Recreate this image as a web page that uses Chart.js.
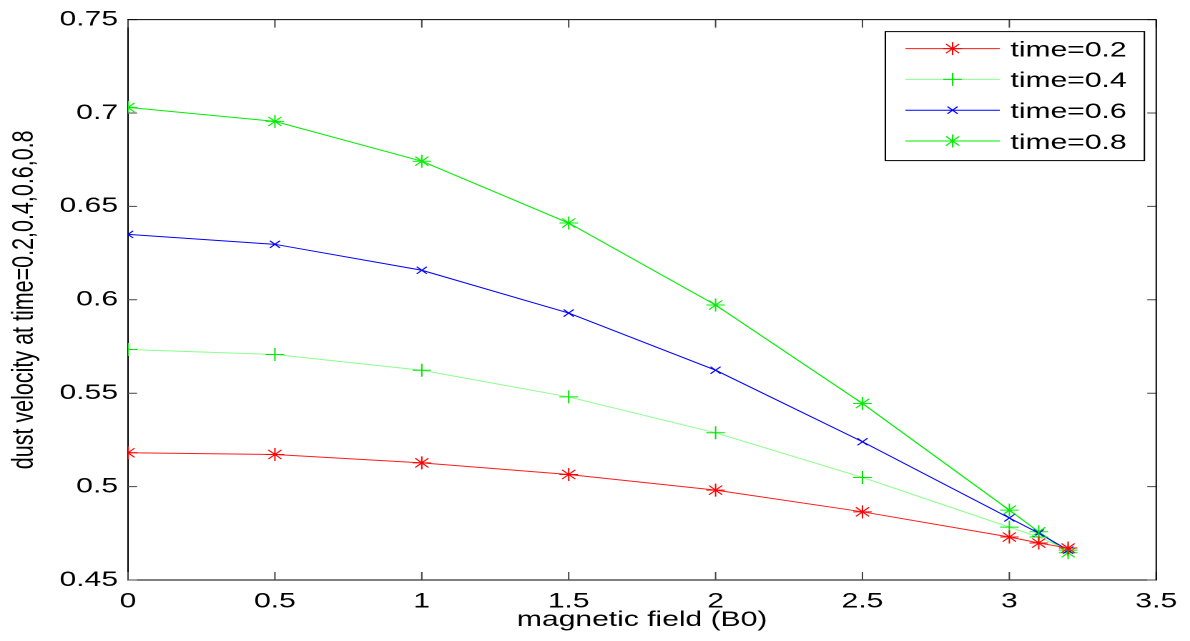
<!DOCTYPE html>
<html>
<head>
<meta charset="utf-8">
<script src="https://cdn.jsdelivr.net/npm/chart.js@4/dist/chart.umd.min.js"></script>
<style>
html,body{margin:0;padding:0;background:#fff;overflow:hidden;}
#wrap{position:absolute;left:0;top:0;width:832px;height:641px;transform:scaleX(1.430288);transform-origin:0 0;}
</style>
</head>
<body>
<div id="wrap"><canvas id="c"></canvas></div>
<script>
// ---- data ----
const xValues = [0, 0.5, 1, 1.5, 2, 2.5, 3, 3.1, 3.2];
const seriesNames = ['time=0.2', 'time=0.4', 'time=0.6', 'time=0.8'];
const time02 = [0.5181, 0.5172, 0.5127, 0.5065, 0.4981, 0.4865, 0.4730, 0.4698, 0.4671];
const time04 = [0.5734, 0.5707, 0.5623, 0.5480, 0.5288, 0.5049, 0.4783, 0.4730, 0.4660];
const time06 = [0.6350, 0.6297, 0.6158, 0.5929, 0.5623, 0.5240, 0.4832, 0.4751, 0.4660];
const time08 = [0.7030, 0.6955, 0.6742, 0.6411, 0.5972, 0.5445, 0.4874, 0.4758, 0.4646];
const xTicks = [0, 0.5, 1, 1.5, 2, 2.5, 3, 3.5];
const xTickLabels = ['0', '0.5', '1', '1.5', '2', '2.5', '3', '3.5'];
const yTicks = [0.45, 0.5, 0.55, 0.6, 0.65, 0.7, 0.75];
const yTickLabels = ['0.45', '0.5', '0.55', '0.6', '0.65', '0.7', '0.75'];
const xTitle = 'magnetic field (B0)';
const yTitle = 'dust velocity at time=0.2,0.4,0.6,0.8';

// ---- styles ----
const seriesValues = [time02, time04, time06, time08];
const lineColors = ['#ff1a1a', '#8cff8c', '#0000ff', '#00ee00'];
const markerColors = ['#ff0000', '#00e600', '#0000ff', '#00ee00'];
const markerStyles = ['star', 'cross', 'crossRot', 'star'];
const markerRadius = [6.5, 6.5, 5, 6.5];
const FONT = "'Liberation Sans', Arial, Helvetica, sans-serif";

const datasets = seriesNames.map((name, i) => ({
  label: name,
  data: xValues.map((x, j) => ({ x: x, y: seriesValues[i][j] })),
  borderColor: lineColors[i],
  backgroundColor: 'rgba(0,0,0,0)',
  borderWidth: 1,
  pointStyle: markerStyles[i],
  pointRadius: markerRadius[i],
  pointBorderColor: markerColors[i],
  pointBackgroundColor: 'rgba(0,0,0,0)',
  pointBorderWidth: 1,
  pointHoverRadius: markerRadius[i],
  tension: 0,
  fill: false
}));

const frameTicks = {
  id: 'frameTicks',
  afterDraw(chart) {
    const ctx = chart.ctx, a = chart.chartArea;
    const xs = chart.scales.x, ys = chart.scales.y;
    ctx.save();
    ctx.strokeStyle = '#444';
    ctx.lineWidth = 1;
    ctx.beginPath();
    xs.ticks.forEach(t => {
      const px = xs.getPixelForValue(t.value);
      ctx.moveTo(px, a.bottom); ctx.lineTo(px, a.bottom - 8);
      ctx.moveTo(px, a.top); ctx.lineTo(px, a.top + 8);
    });
    ys.ticks.forEach(t => {
      const py = ys.getPixelForValue(t.value);
      ctx.moveTo(a.left, py); ctx.lineTo(a.left + 6.3, py);
      ctx.moveTo(a.right, py); ctx.lineTo(a.right - 6.3, py);
    });
    ctx.stroke();
    ctx.strokeStyle = '#000';
    ctx.beginPath();
    ctx.moveTo(a.left, a.top); ctx.lineTo(a.right, a.top); ctx.lineTo(a.right, a.bottom);
    ctx.stroke();
    ctx.restore();
  }
};

const boxLegend = {
  id: 'boxLegend',
  afterDraw(chart) {
    const ctx = chart.ctx, a = chart.chartArea;
    const left = a.right - 189.4, top = a.top + 12, w = 181.1, h = 129;
    ctx.save();
    ctx.fillStyle = '#fff';
    ctx.fillRect(left, top, w, h);
    ctx.strokeStyle = '#000';
    ctx.lineWidth = 1;
    ctx.strokeRect(left, top, w, h);
    chart.data.datasets.forEach((ds, i) => {
      const y = top + 17 + i * 30.8;
      ctx.strokeStyle = ds.borderColor;
      ctx.lineWidth = 1;
      ctx.beginPath();
      ctx.moveTo(left + 14, y); ctx.lineTo(left + 80, y);
      ctx.stroke();
      ctx.strokeStyle = ds.pointBorderColor;
      if (Chart.helpers && Chart.helpers.drawPoint) {
        Chart.helpers.drawPoint(ctx, { pointStyle: ds.pointStyle, radius: ds.pointRadius, rotation: 0, borderWidth: 1 }, left + 47, y);
      }
      ctx.fillStyle = '#000';
      ctx.font = '21px ' + FONT;
      ctx.textBaseline = 'middle';
      ctx.textAlign = 'left';
      ctx.fillText(ds.label, left + 87.5, y + 2);
    });
    ctx.restore();
  }
};

new Chart(document.getElementById('c'), {
  type: 'line',
  data: { datasets: datasets },
  options: {
    responsive: true,
    maintainAspectRatio: false,
    animation: false,
    devicePixelRatio: 2,
    layout: { padding: { top: 19, right: 22.4, left: 0, bottom: 0 } },
    plugins: { legend: { display: false }, tooltip: { enabled: false } },
    scales: {
      x: {
        type: 'linear', min: 0, max: 3.5,
        afterBuildTicks: s => { s.ticks = xTicks.map(v => ({ value: v })); },
        afterFit: s => { s.height = 61; },
        ticks: {
          autoSkip: false, maxRotation: 0, padding: 9, color: '#000',
          font: { family: FONT, size: 21 },
          callback: (v) => { const k = xTicks.indexOf(v); return k >= 0 ? xTickLabels[k] : ''; }
        },
        grid: { display: false, drawTicks: false },
        border: { display: true, color: '#000', width: 1 },
        title: { display: true, text: xTitle, color: '#000', font: { family: FONT, size: 21 }, padding: { top: 0, bottom: 8 } }
      },
      y: {
        type: 'linear', min: 0.45, max: 0.75,
        afterBuildTicks: s => { s.ticks = yTicks.map(v => ({ value: v })); },
        afterFit: s => { s.width = 89.5; },
        ticks: {
          autoSkip: false, padding: 7, color: '#000',
          font: { family: FONT, size: 21 },
          callback: (v) => { const k = yTicks.findIndex(t => Math.abs(t - v) < 1e-9); return k >= 0 ? yTickLabels[k] : ''; }
        },
        grid: { display: false, drawTicks: false },
        border: { display: true, color: '#000', width: 1 },
        title: { display: true, text: yTitle, color: '#000', font: { family: FONT, size: 21.5 }, padding: { top: 4, bottom: 0 } }
      }
    }
  },
  plugins: [frameTicks, boxLegend]
});
</script>
</body>
</html>
